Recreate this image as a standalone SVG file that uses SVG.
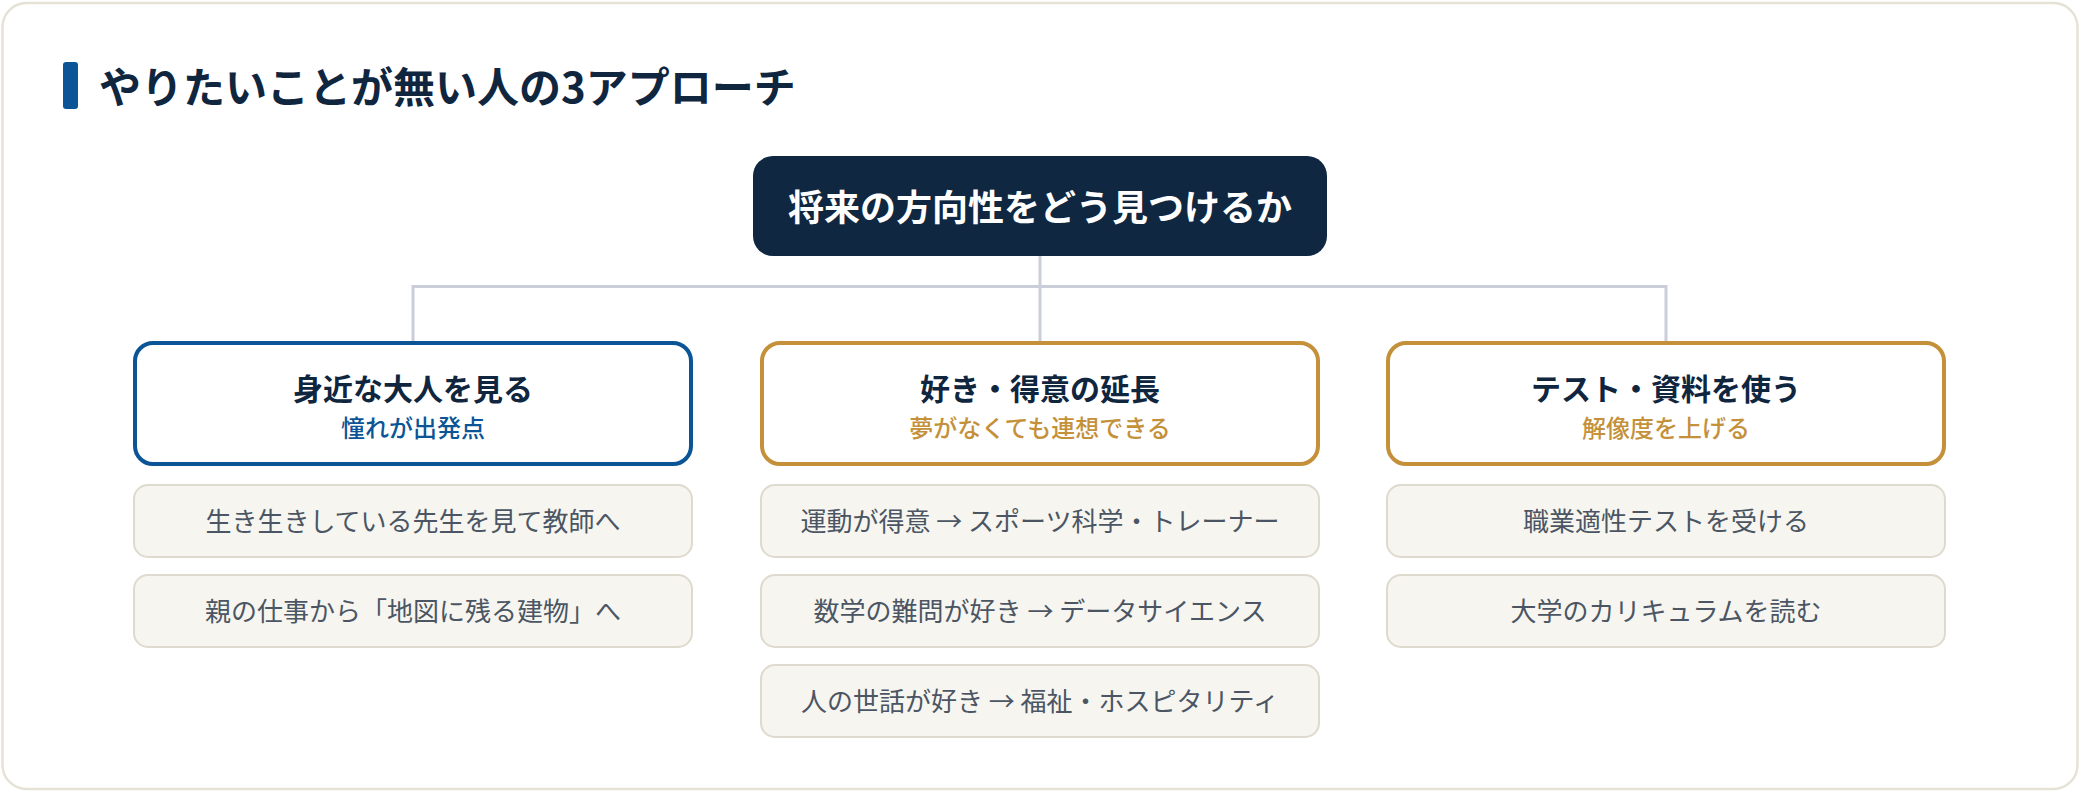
<svg xmlns="http://www.w3.org/2000/svg" width="2080" height="792" viewBox="0 0 2080 792">
<style>
text{font-family:"Noto Sans CJK JP","Noto Sans CJK SC",sans-serif;text-anchor:middle}
.title{font-size:42px;font-weight:700;fill:#10263f;text-anchor:start}
.root-t{font-size:36px;font-weight:700;fill:#ffffff}
.ct{font-size:30px;font-weight:700;fill:#10263f}
.sub{font-size:24px;font-weight:500}
.sb{fill:#0b5597}
.sg{fill:#c4913a}
.item rect{fill:#f6f5f0;stroke:#dedace;stroke-width:2}
.item text{font-size:26px;fill:#4b5563}
.cat{fill:#ffffff;stroke-width:4}
.conn{stroke:#c9ced8;stroke-width:3;fill:none}
</style>
<rect x="2.5" y="3" width="2075" height="786" rx="24" fill="#ffffff" stroke="#e6e3d6" stroke-width="2.5"/>
<g id="heading">
<rect x="63" y="62" width="15" height="47" rx="3" fill="#0b5597"/>
<text class="title" x="99" y="103">やりたいことが無い人の3アプローチ</text>
</g>
<g id="connectors">
<path class="conn" d="M1040 256 V341 M413 286.5 H1666 M413 285 V341 M1666 285 V341"/>
</g>
<g id="root">
<rect x="753" y="156" width="574" height="100" rx="20" fill="#0f2741"/>
<text class="root-t" x="1040" y="221">将来の方向性をどう見つけるか</text>
</g>
<g id="cat1">
<rect class="cat" x="135" y="343" width="556" height="121" rx="18" stroke="#0b5597"/>
<text class="ct" x="413" y="400">身近な大人を見る</text>
<text class="sub sb" x="413" y="437">憧れが出発点</text>
</g>
<g id="cat2">
<rect class="cat" x="762" y="343" width="556" height="121" rx="18" stroke="#c4913a"/>
<text class="ct" x="1040" y="400">好き・得意の延長</text>
<text class="sub sg" x="1040" y="437">夢がなくても連想できる</text>
</g>
<g id="cat3">
<rect class="cat" x="1388" y="343" width="556" height="121" rx="18" stroke="#c4913a"/>
<text class="ct" x="1666" y="400">テスト・資料を使う</text>
<text class="sub sg" x="1666" y="437">解像度を上げる</text>
</g>
<g id="item1a" class="item">
<rect x="134" y="485" width="558" height="72" rx="14"/>
<text x="413" y="531">生き生きしている先生を見て教師へ</text>
</g>
<g id="item1b" class="item">
<rect x="134" y="575" width="558" height="72" rx="14"/>
<text x="413" y="621">親の仕事から「地図に残る建物」へ</text>
</g>
<g id="item2a" class="item">
<rect x="761" y="485" width="558" height="72" rx="14"/>
<text x="1040" y="531">運動が得意 → スポーツ科学・トレーナー</text>
</g>
<g id="item2b" class="item">
<rect x="761" y="575" width="558" height="72" rx="14"/>
<text x="1040" y="621">数学の難問が好き → データサイエンス</text>
</g>
<g id="item2c" class="item">
<rect x="761" y="665" width="558" height="72" rx="14"/>
<text x="1040" y="711">人の世話が好き → 福祉・ホスピタリティ</text>
</g>
<g id="item3a" class="item">
<rect x="1387" y="485" width="558" height="72" rx="14"/>
<text x="1666" y="531">職業適性テストを受ける</text>
</g>
<g id="item3b" class="item">
<rect x="1387" y="575" width="558" height="72" rx="14"/>
<text x="1666" y="621">大学のカリキュラムを読む</text>
</g>
</svg>
